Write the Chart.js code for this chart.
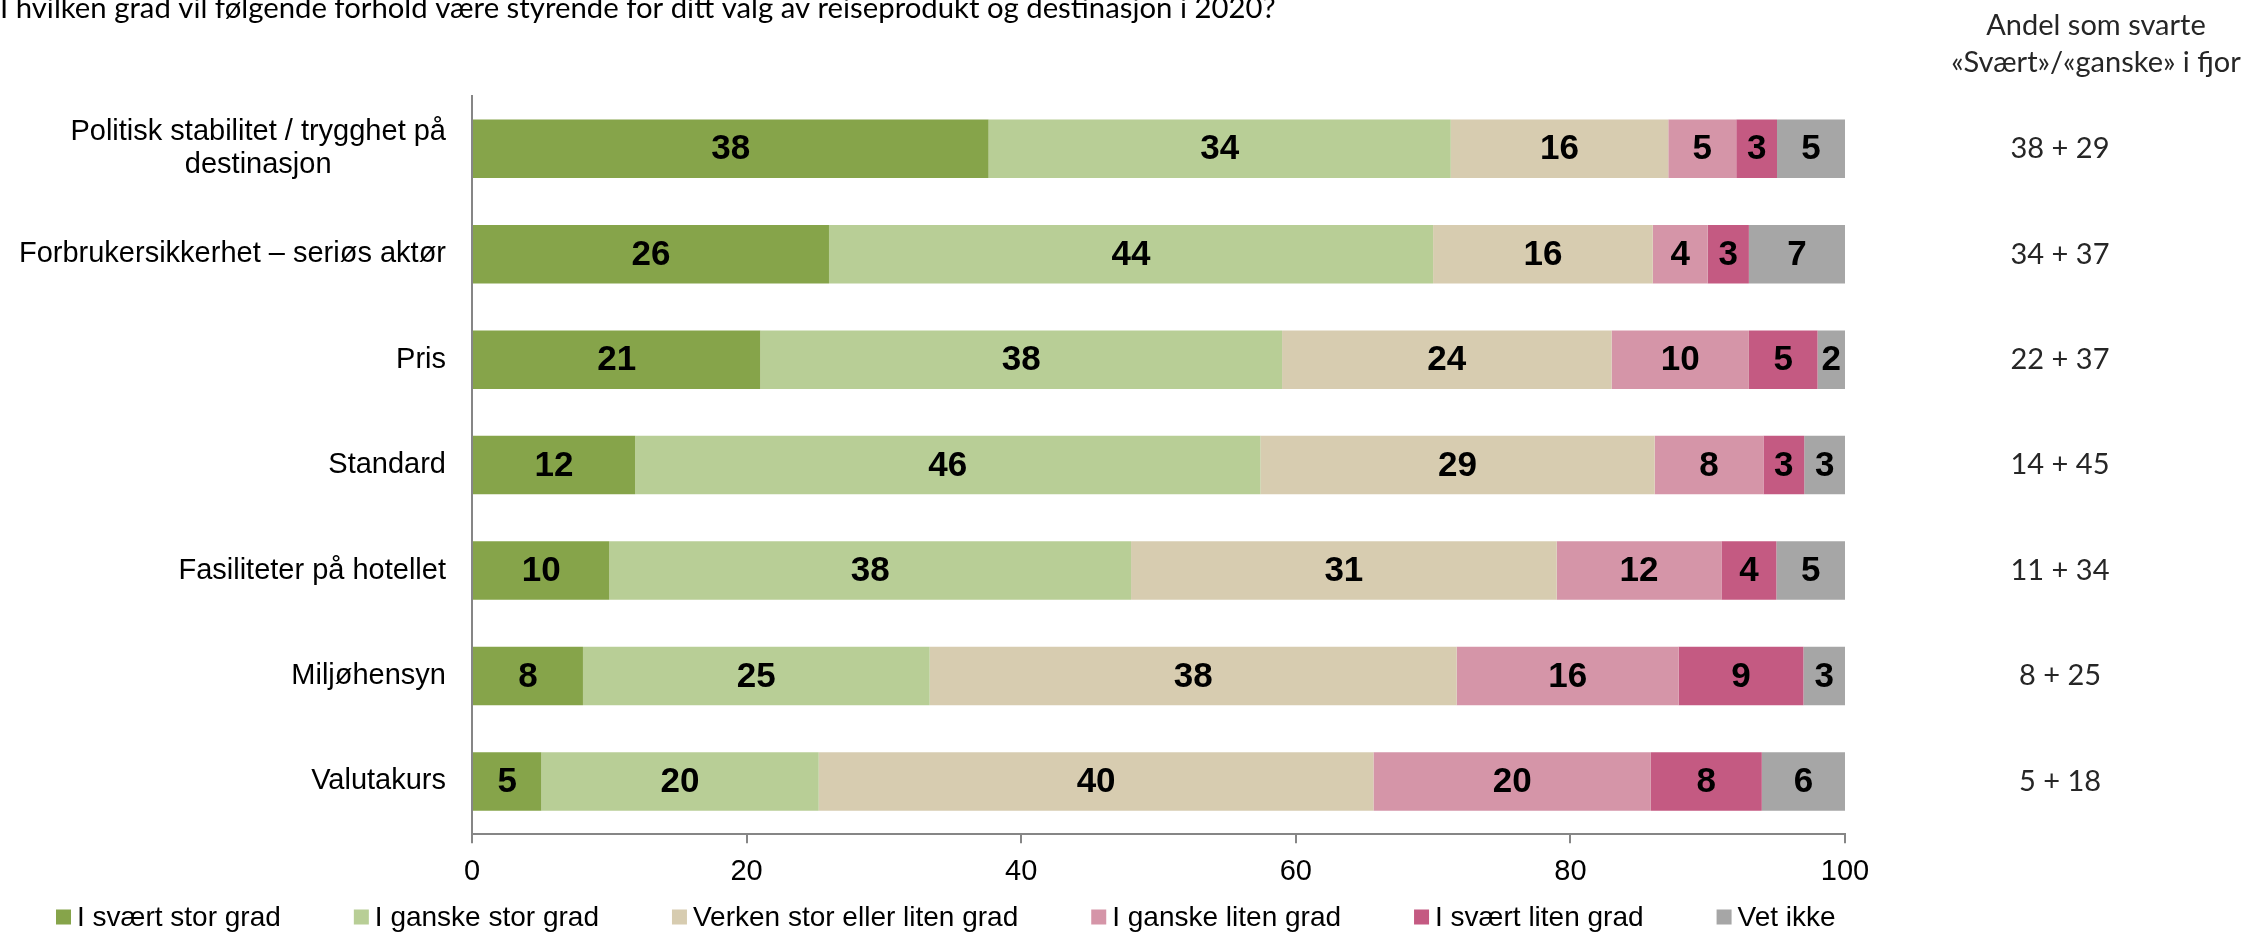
<!DOCTYPE html>
<html>
<head>
<meta charset="utf-8">
<script src="https://cdn.jsdelivr.net/npm/chart.js@4"></script>
<style>
html, body { margin: 0; padding: 0; background: #fff; }
#wrap { width: 2256px; height: 933px; position: relative; }
</style>
</head>
<body>
<div id="wrap"><canvas id="chart"></canvas></div>
<script>
const categories = [
    ['Politisk stabilitet / trygghet på', 'destinasjon'],
    'Forbrukersikkerhet – seriøs aktør',
    'Pris',
    'Standard',
    'Fasiliteter på hotellet',
    'Miljøhensyn',
    'Valutakurs'
];
const seriesNames = ['I svært stor grad', 'I ganske stor grad', 'Verken stor eller liten grad', 'I ganske liten grad', 'I svært liten grad', 'Vet ikke'];
const svaertStor = [38, 26, 21, 12, 10, 8, 5];
const ganskeStor = [34, 44, 38, 46, 38, 25, 20];
const verken = [16, 16, 24, 29, 31, 38, 40];
const ganskeLiten = [5, 4, 10, 8, 12, 16, 20];
const svaertLiten = [3, 3, 5, 3, 4, 9, 8];
const vetIkke = [5, 7, 2, 3, 5, 3, 6];
const fjorSvaert = [38, 34, 22, 14, 11, 8, 5];
const fjorGanske = [29, 37, 37, 45, 34, 25, 18];
const xTicks = [0, 20, 40, 60, 80, 100];

const title = 'I hvilken grad vil følgende forhold være styrende for ditt valg av reiseprodukt og destinasjon i 2020?';
const sideHeader = ['Andel som svarte', '«Svært»/«ganske» i fjor'];

const colors = ['#86A44A', '#B8CE96', '#D7CCB0', '#D595A8', '#C45A82', '#A6A6A6'];
const allSeries = [svaertStor, ganskeStor, verken, ganskeLiten, svaertLiten, vetIkke];

// Excel-style 100% stacking: each row is scaled to its own total
const totals = categories.map((c, i) => allSeries.reduce((s, arr) => s + arr[i], 0));

const FONT = '"Liberation Sans", Arial, sans-serif';
const SIDE_FONT = 'Lato, "Open Sans", sans-serif';
Chart.defaults.font.family = FONT;
Chart.defaults.color = '#000';

const textPlugin = {
    id: 'texts',
    afterDatasetsDraw(chart) {
        const ctx = chart.ctx;
        ctx.save();
        ctx.fillStyle = '#000';
        ctx.font = 'bold 35px ' + FONT;
        ctx.textAlign = 'center';
        ctx.textBaseline = 'middle';
        chart.data.datasets.forEach((ds, di) => {
            const meta = chart.getDatasetMeta(di);
            meta.data.forEach((bar, i) => {
                const cx = (bar.x + bar.base) / 2;
                ctx.fillText(String(ds.raw[i]), cx, bar.y + 1);
            });
        });
        ctx.restore();
    },
    afterDraw(chart) {
        const ctx = chart.ctx;
        const yScale = chart.scales.y;
        ctx.save();

        // title (cut off at the top like the source)
        ctx.fillStyle = '#000';
        ctx.font = '29.3px ' + SIDE_FONT;
        ctx.textAlign = 'left';
        ctx.textBaseline = 'alphabetic';
        ctx.fillText(title, 0, 18);

        // category labels
        ctx.font = '29px ' + FONT;
        ctx.textAlign = 'center';
        ctx.textBaseline = 'middle';
        const labelRight = chart.chartArea.left - 26;
        categories.forEach((lab, i) => {
            const lines = Array.isArray(lab) ? lab : [lab];
            const w = Math.max(...lines.map(l => ctx.measureText(l).width));
            const y = yScale.getPixelForValue(i);
            const lh = 33;
            lines.forEach((l, k) => {
                ctx.fillText(l, labelRight - w / 2, y + (k - (lines.length - 1) / 2) * lh);
            });
        });

        // right column
        ctx.fillStyle = '#262626';
        ctx.font = '29px ' + SIDE_FONT;
        ctx.fillText(sideHeader[0], 2096, 26);
        ctx.fillText(sideHeader[1], 2096, 63);
        categories.forEach((c, i) => {
            ctx.fillText(fjorSvaert[i] + ' + ' + fjorGanske[i], 2060, yScale.getPixelForValue(i));
        });

        // legend
        ctx.font = '28px ' + FONT;
        ctx.textAlign = 'left';
        const ly = 917;
        let x = 56;
        chart.data.datasets.forEach(ds => {
            ctx.fillStyle = ds.backgroundColor;
            ctx.fillRect(x, ly - 7.5, 15, 15);
            ctx.fillStyle = '#000';
            ctx.fillText(ds.label, x + 21, ly + 1);
            x += 21 + ctx.measureText(ds.label).width + 73;
        });
        ctx.restore();
    }
};

new Chart(document.getElementById('chart'), {
    type: 'bar',
    data: {
        labels: categories,
        datasets: allSeries.map((arr, k) => ({
            label: seriesNames[k],
            raw: arr,
            data: arr.map((v, i) => v / totals[i] * 100),
            backgroundColor: colors[k],
            borderWidth: 0,
            barPercentage: 0.555,
            categoryPercentage: 1
        }))
    },
    options: {
        indexAxis: 'y',
        responsive: true,
        maintainAspectRatio: false,
        animation: false,
        layout: { padding: { left: 472, right: 411, top: 96, bottom: 33 } },
        plugins: {
            legend: { display: false },
            tooltip: { enabled: false }
        },
        scales: {
            x: {
                stacked: true,
                min: 0,
                max: 100,
                afterBuildTicks: s => { s.ticks = xTicks.map(v => ({ value: v })); },
                ticks: { color: '#000', font: { size: 29 }, padding: 11, maxRotation: 0 },
                grid: { drawOnChartArea: false, drawTicks: true, tickLength: 9, color: '#868686', lineWidth: 2 },
                border: { color: '#868686', width: 2 }
            },
            y: {
                stacked: true,
                ticks: { display: false },
                grid: { display: false, drawTicks: false },
                border: { color: '#868686', width: 2 }
            }
        }
    },
    plugins: [textPlugin]
});
</script>
</body>
</html>
